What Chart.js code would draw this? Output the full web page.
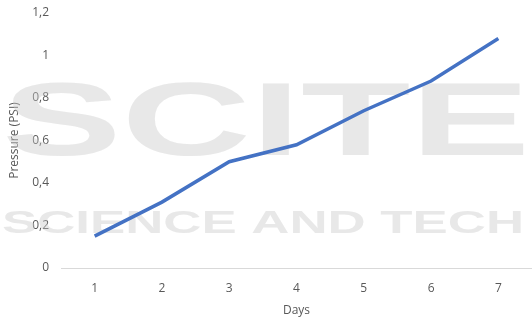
<!DOCTYPE html>
<html>
<head>
<meta charset="utf-8">
<script src="https://cdn.jsdelivr.net/npm/chart.js@4.4.0/dist/chart.umd.min.js"></script>
<style>
  html, body { margin: 0; padding: 0; background: #fff; }
  #wrap { width: 532px; height: 320px; }
</style>
</head>
<body>
<div id="wrap"><canvas id="myChart" width="532" height="320"></canvas></div>
<script>
// days on the x axis, measured pressure per day
const days = ['1', '2', '3', '4', '5', '6', '7'];
const pressure = [0.15, 0.31, 0.50, 0.58, 0.74, 0.88, 1.08];
const yTicks = [0, 0.2, 0.4, 0.6, 0.8, 1, 1.2];

const textColor = '#595959';
const fontFamily = '"Open Sans", sans-serif';

// faint publisher mark behind the line
const watermark = {
  id: 'watermark',
  beforeDatasetsDraw(chart) {
    const ctx = chart.ctx;
    ctx.save();
    ctx.fillStyle = 'rgba(200,200,200,0.42)';
    ctx.textBaseline = 'alphabetic';

    ctx.font = 'bold 104px "Liberation Sans", sans-serif';
    let w = ctx.measureText('SCITE').width;
    ctx.translate(2, 155);
    ctx.scale(528 / w, 1);
    ctx.fillText('SCITE', 0, 0);
    ctx.setTransform(1, 0, 0, 1, 0, 0);

    ctx.font = 'bold 31px "Liberation Sans", sans-serif';
    w = ctx.measureText('SCIENCE AND TECH').width;
    ctx.translate(2, 233);
    ctx.scale(522 / w, 1);
    ctx.fillText('SCIENCE AND TECH', 0, 0);
    ctx.restore();
  }
};

const ctx = document.getElementById('myChart').getContext('2d');
const chartInstance = new Chart(ctx, {
  type: 'line',
  data: {
    labels: days,
    datasets: [{
      label: 'Pressure',
      data: pressure,
      borderColor: '#4472C4',
      borderWidth: 3.5,
      pointRadius: 0,
      tension: 0,
      fill: false
    }]
  },
  options: {
    responsive: false,
    animation: false,
    layout: { padding: { top: 13, right: -2, left: 0, bottom: 0 } },
    plugins: {
      legend: { display: false },
      tooltip: { enabled: false }
    },
    scales: {
      x: {
        offset: true,
        grid: { display: false },
        border: { display: false },
        ticks: { color: textColor, font: { family: fontFamily, size: 12 }, padding: 5 },
        title: {
          display: true,
          text: 'Days',
          color: textColor,
          font: { family: fontFamily, size: 12 },
          padding: { top: 2, bottom: 2 }
        },
        afterFit(scale) {
          scale.height = 52;
          scale.paddingLeft = 0;
          scale.paddingRight = 0;
        }
      },
      y: {
        min: 0,
        max: 1.2,
        afterBuildTicks(scale) {
          scale.ticks = yTicks.map(v => ({ value: v }));
        },
        grid: {
          drawTicks: false,
          color: c => (c.tick && c.tick.value === 0 ? '#d9d9d9' : 'rgba(0,0,0,0)'),
          lineWidth: 1
        },
        border: { display: false },
        ticks: {
          color: textColor,
          font: { family: fontFamily, size: 12 },
          padding: 12,
          callback: v => String(v).replace('.', ',')
        },
        title: {
          display: true,
          text: 'Pressure (PSI)',
          color: textColor,
          font: { family: fontFamily, size: 12 },
          padding: { top: 7, bottom: 0 }
        },
        afterFit(scale) {
          scale.width = 61;
          scale.paddingTop = 0;
          scale.paddingBottom = 0;
        }
      }
    }
  },
  plugins: [watermark]
});
</script>
</body>
</html>
